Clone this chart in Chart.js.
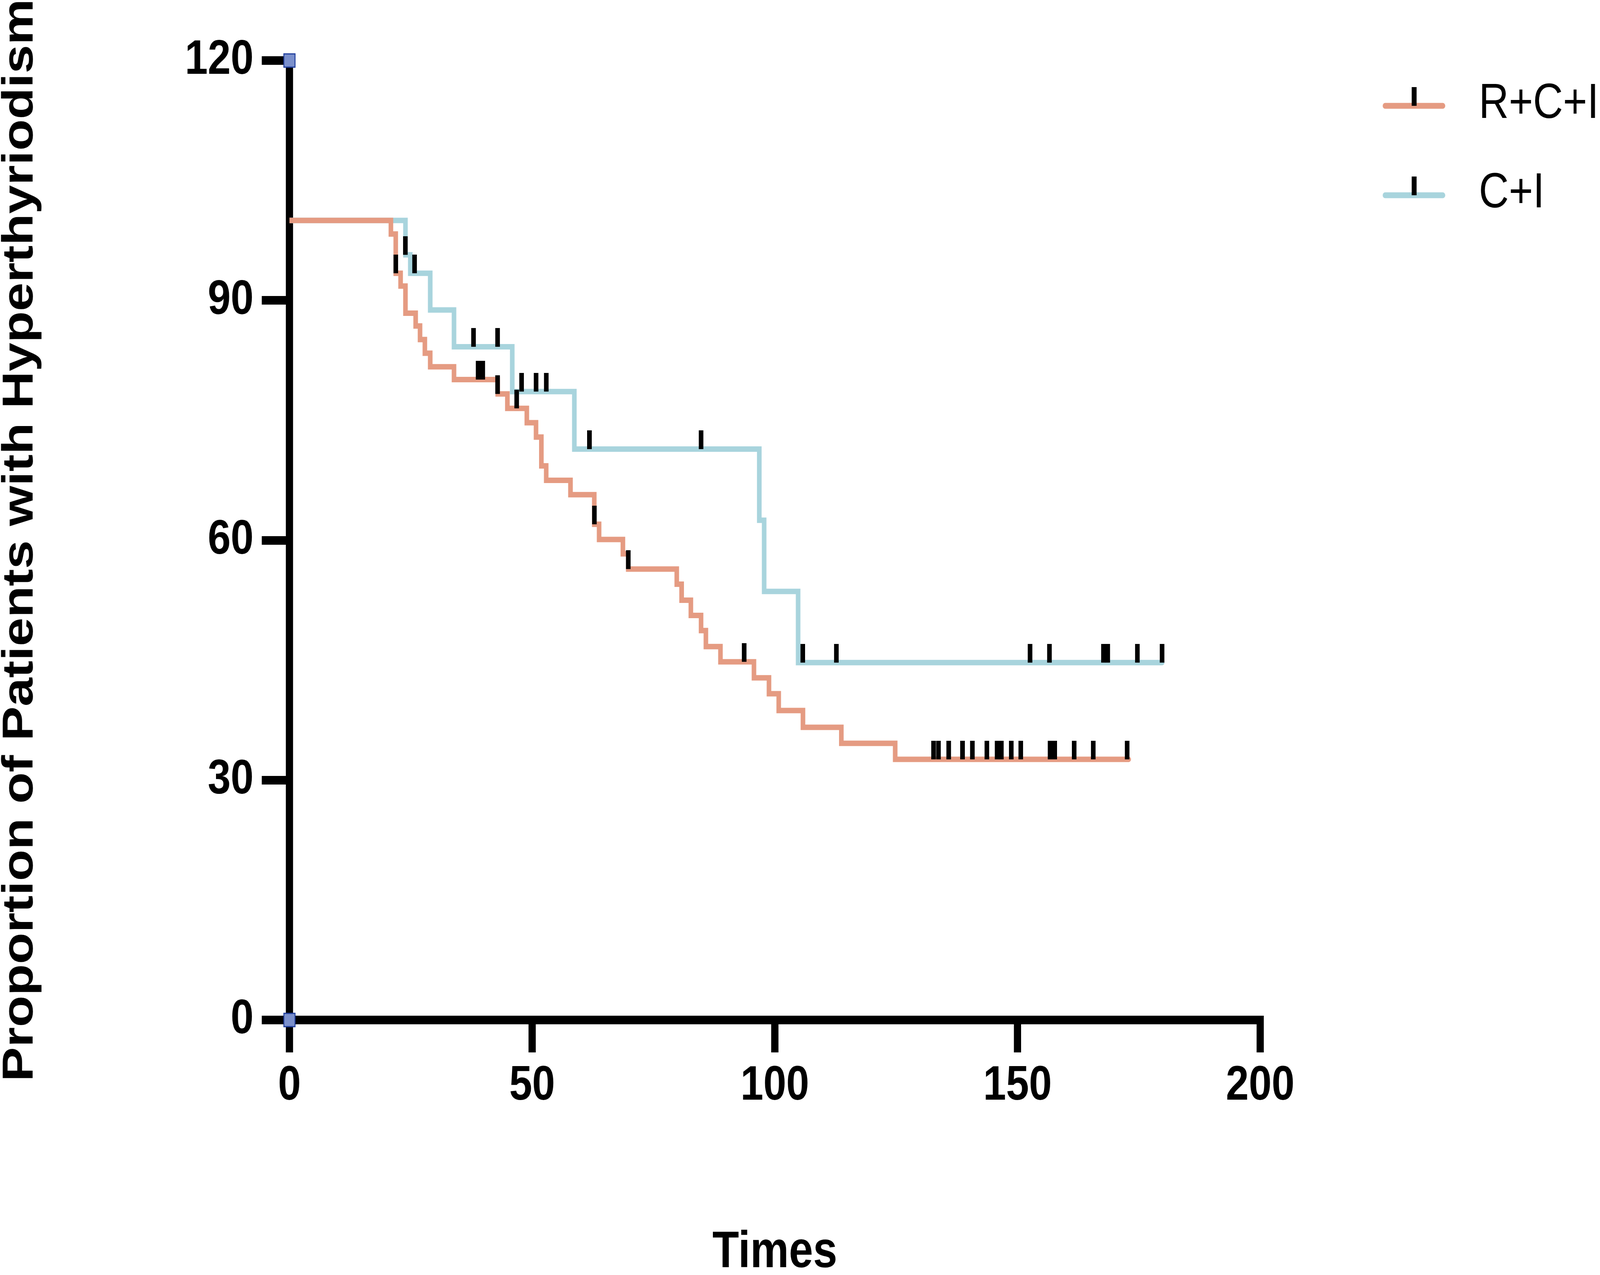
<!DOCTYPE html>
<html>
<head>
<meta charset="utf-8">
<title>Proportion of Patients with Hyperthyriodism</title>
<script src="https://cdn.jsdelivr.net/npm/chart.js@4.4.1/dist/chart.umd.min.js"></script>
<style>
  html, body { margin: 0; padding: 0; background: #ffffff; overflow: hidden; }
  /* drawing buffer stays 4859x3265, the element is stretched to the viewport */
  #kmChart { display: block; }
</style>
</head>
<body>
<canvas id="kmChart" width="4859" height="3265" style="width: 100vw; height: 100vh;"></canvas>
<script>
// axis ticks
const xTickValues = [0, 50, 100, 150, 200];
const yTickValues = [0, 30, 60, 90, 120];

const seriesNames = ['R+C+I', 'C+I'];

// R+C+I : step times and proportion
const rciTimes = [0, 20.9, 21.9, 22.9, 23.9, 26.0, 26.9, 27.9, 29.0, 33.9, 42.9, 44.9, 48.9, 50.8, 51.9, 52.9, 57.9,
                  62.8, 63.8, 68.7, 69.8, 79.8, 80.8, 82.7, 84.8, 85.8, 88.8, 95.7, 98.8, 100.8, 105.8, 113.7, 124.8, 172.9];
const rciSurv  = [100, 98.3, 93.4, 91.8, 88.4, 86.8, 85.1, 83.4, 81.7, 80.1, 78.3, 76.5, 74.7, 72.9, 69.3, 67.5, 65.7,
                  62.0, 60.1, 58.3, 56.4, 54.5, 52.5, 50.6, 48.7, 46.7, 44.8, 42.8, 40.8, 38.7, 36.6, 34.6, 32.6, 32.6];
const rciCensored = [21.9, 38.9, 39.8, 42.9, 46.8, 62.8, 69.8, 93.7, 132.7, 133.7, 135.8, 138.7, 140.7, 143.7,
                     145.8, 146.7, 148.7, 150.7, 156.7, 157.7, 161.7, 165.6, 172.6];

// C+I
const ciTimes = [0, 23.9, 24.9, 29.0, 33.9, 45.9, 58.7, 96.8, 97.8, 104.8, 179.8];
const ciSurv  = [100, 95.7, 93.4, 88.8, 84.2, 78.6, 71.4, 62.5, 53.6, 44.7, 44.7];
const ciCensored = [23.9, 25.8, 37.9, 42.9, 47.8, 50.8, 52.9, 61.8, 84.8, 105.8, 112.7, 152.6, 156.6,
                    167.7, 168.6, 174.7, 179.8];

// little square markers sitting on the y axis ends
const axisMarkValues = [120, 0];

const rciColor = '#E59B82';
const ciColor = '#A8D4DD';

Chart.defaults.font.family = "'Liberation Sans', Arial, Helvetica, sans-serif";
Chart.defaults.color = '#000';

function toPoints(times, values) {
    return times.map((t, i) => ({ x: t, y: values[i] }));
}

// proportion of the curve at time t (after any drop at t)
function levelAt(times, values, t) {
    let v = values[0];
    for (let i = 0; i < times.length; i++) {
        if (times[i] <= t + 1e-9) v = values[i];
    }
    return v;
}

function censorPoints(censored, times, values) {
    return censored.map(t => ({ x: t, y: levelAt(times, values, t) }));
}

// black censor tick, bottom of the tick sits on the point
function makeTick() {
    const c = document.createElement('canvas');
    c.width = 14;
    c.height = 96;
    const g = c.getContext('2d');
    g.fillStyle = '#000';
    g.fillRect(0, 0, 14, 48);
    return c;
}

// legend sample: coloured line with a censor tick on it
function makeLegendSample(color) {
    const c = document.createElement('canvas');
    c.width = 498;
    c.height = 110;
    const g = c.getContext('2d');
    g.strokeStyle = color;
    g.lineWidth = 15;
    g.lineCap = 'round';
    g.beginPath();
    g.moveTo(276.5, 59);
    g.lineTo(451.5, 59);
    g.stroke();
    g.fillStyle = '#000';
    g.fillRect(357, 11, 15, 48);
    return c;
}

const tick = makeTick();

const ctx = document.getElementById('kmChart').getContext('2d');

new Chart(ctx, {
    type: 'line',
    data: {
        datasets: [
            {
                label: seriesNames[0],
                data: toPoints(rciTimes, rciSurv),
                borderColor: rciColor,
                backgroundColor: rciColor,
                borderWidth: 14,
                borderCapStyle: 'round',
                stepped: 'before',
                fill: false,
                pointRadius: 0,
                pointStyle: makeLegendSample(rciColor),
                order: 0
            },
            {
                label: seriesNames[1],
                data: toPoints(ciTimes, ciSurv),
                borderColor: ciColor,
                backgroundColor: ciColor,
                borderWidth: 14,
                borderCapStyle: 'round',
                stepped: 'before',
                fill: false,
                pointRadius: 0,
                pointStyle: makeLegendSample(ciColor),
                order: 1
            },
            {
                label: seriesNames[0] + ' censored',
                data: censorPoints(rciCensored, rciTimes, rciSurv),
                showLine: false,
                pointStyle: tick,
                pointRadius: 3,
                order: -1
            },
            {
                label: seriesNames[1] + ' censored',
                data: censorPoints(ciCensored, ciTimes, ciSurv),
                showLine: false,
                pointStyle: tick,
                pointRadius: 3,
                order: -1
            },
            {
                label: 'axis marks',
                data: axisMarkValues.map(v => ({ x: 0, y: v })),
                showLine: false,
                pointStyle: 'rect',
                pointRadius: 24,
                backgroundColor: '#7B90CC',
                borderColor: '#1F3D9C',
                borderWidth: 3,
                clip: false,
                order: -2
            }
        ]
    },
    options: {
        responsive: false,
        animation: false,
        devicePixelRatio: 1,
        events: [],
        // negative top padding keeps the rotated title centred on the plot
        layout: { padding: { left: 0, right: 0, top: -498, bottom: 0 } },
        plugins: {
            legend: {
                position: 'right',
                align: 'start',
                maxWidth: 1032,
                title: { display: true, text: '', font: { size: 1, lineHeight: 1 }, padding: { top: 598, bottom: 0 } },
                labels: {
                    usePointStyle: true,
                    pointStyleWidth: 498,
                    padding: 103,
                    color: '#000',
                    font: { size: 126, weight: 'normal' },
                    filter: item => item.datasetIndex < 2
                }
            },
            title: {
                display: true,
                position: 'left',
                align: 'center',
                text: 'Proportion of Patients with Hyperthyriodism',
                color: '#000',
                font: { size: 132, weight: 'bold', lineHeight: 0.9 },
                padding: { top: 3, bottom: 0 }
            },
            tooltip: { enabled: false }
        },
        scales: {
            x: {
                type: 'linear',
                min: 0,
                max: 200,
                afterBuildTicks: axis => { axis.ticks = xTickValues.map(v => ({ value: v })); },
                afterFit: axis => { axis.height = 653; },
                border: { display: true, color: '#000', width: 22 },
                grid: { drawOnChartArea: false, drawTicks: true, tickLength: 83, lineWidth: 22, color: '#000' },
                ticks: { color: '#000', padding: 12, autoSkip: false, maxRotation: 0, font: { size: 125, weight: 'bold' } },
                title: {
                    display: true,
                    text: 'Times',
                    color: '#000',
                    font: { size: 132, weight: 'bold', lineHeight: 0.8 },
                    padding: { top: 0, bottom: 4 }
                }
            },
            y: {
                type: 'linear',
                min: 0,
                max: 120,
                afterBuildTicks: axis => { axis.ticks = yTickValues.map(v => ({ value: v })); },
                afterFit: axis => { axis.width = 757.2; axis.paddingTop = 155; },
                border: { display: true, color: '#000', width: 22 },
                grid: { drawOnChartArea: false, drawTicks: true, tickLength: 84, lineWidth: 22, color: '#000' },
                ticks: { color: '#000', padding: 25, font: { size: 125, weight: 'bold' } }
            }
        }
    }
});
</script>
</body>
</html>
